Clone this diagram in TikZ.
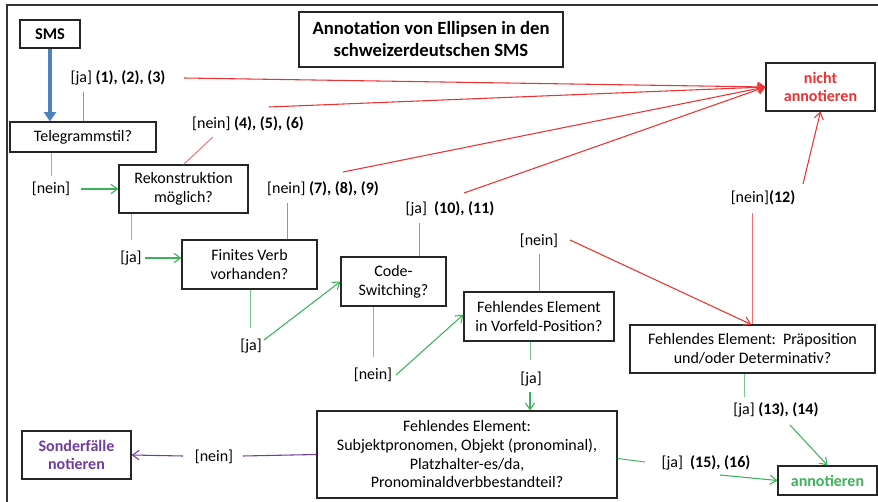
\documentclass[tikz,border=0pt]{standalone}
\usepackage{fontspec}
\setmainfont{Carlito}
\usetikzlibrary{arrows.meta}
\definecolor{cred}{RGB}{236,50,50}
\definecolor{cstubred}{RGB}{240,110,110}
\definecolor{cgreen}{RGB}{60,178,90}
\definecolor{cstubgreen}{RGB}{120,200,140}
\definecolor{cpurple}{RGB}{112,60,160}
\definecolor{cblue}{RGB}{79,129,189}
\begin{document}
\begin{tikzpicture}[x=0.75pt,y=-0.75pt,
  every node/.style={font=\fontsize{12}{14}\selectfont},
  box/.style={draw=black!85,line width=0.8pt,fill=white,align=center,inner sep=0pt},
  lbl/.style={inner sep=1pt,align=center},
  redarr/.style={draw=cred,line width=0.8pt,-{Straight Barb[length=5pt,width=7pt]}},
  redstub/.style={draw=cstubred,line width=0.7pt},
  grnarr/.style={draw=cgreen,line width=0.8pt,-{Straight Barb[length=5pt,width=7pt]}},
  grnstub/.style={draw=cstubgreen,line width=0.7pt},
  purarr/.style={draw=cpurple,line width=0.8pt,-{Straight Barb[length=5pt,width=7pt]}}
]
\useasboundingbox (0,0) rectangle (878,502);
% frame
\draw[black!80,line width=1.1pt] (7,502) -- (7,5) -- (878,5);

% nodes
\node[box,font=\bfseries\fontsize{12.3}{14}\selectfont,minimum width=45pt,minimum height=21pt] (sms) at (50,34) {SMS};
\node[box,font=\bfseries\fontsize{14}{16.5}\selectfont,minimum width=198pt,minimum height=41.25pt] (title) at (431,39.5) {Annotation von Ellipsen in den\\schweizerdeutschen SMS};
\node[box,minimum width=109.5pt,minimum height=22.5pt] (tel) at (83,137) {Telegrammstil?};
\node[box,minimum width=96.75pt,minimum height=36pt] (rek) at (183.5,189) {Rekonstruktion\\möglich?};
\node[box,minimum width=101.25pt,minimum height=36.75pt] (fin) at (249.5,264.5) {Finites Verb\\vorhanden?};
\node[box,minimum width=78.75pt,minimum height=36.75pt] (code) at (393.5,281.5) {Code-\\Switching?};
\node[box,minimum width=112.5pt,minimum height=36.75pt] (vorf) at (539,316.5) {Fehlendes Element\\in Vorfeld-Position?};
\node[box,minimum width=183.75pt,minimum height=36pt] (prap) at (752.5,349) {Fehlendes Element:\ \ Präposition\\und/oder Determinativ?};
\node[box,minimum width=225pt,minimum height=65.25pt] (big) at (467,454.5) {Fehlendes Element:\\Subjektpronomen, Objekt (pronominal),\\Platzhalter-es/da,\\Pronominaldverbbestandteil?};
\node[box,text=cred,font=\bfseries\fontsize{12}{14}\selectfont,minimum width=81.75pt,minimum height=36pt] (nicht) at (820.5,87) {nicht\\annotieren};
\node[box,text=cgreen,font=\bfseries\fontsize{12}{14}\selectfont,minimum width=74.25pt,minimum height=21.75pt] (annot) at (827.5,480.5) {annotieren};
\node[box,text=cpurple,font=\bfseries\fontsize{12}{14}\selectfont,minimum width=81.75pt,minimum height=36pt] (sond) at (76.5,455) {Sonderfälle\\notieren};

% labels
\node[lbl] (l1) at (118,78) {[ja] \textbf{(1), (2), (3)}};
\node[lbl] (l2) at (248,124) {[nein] \textbf{(4), (5), (6)}};
\node[lbl] (l3) at (51,189) {[nein]};
\node[lbl] (l4) at (131,258) {[ja]};
\node[lbl] (l5) at (323,189) {[nein] \textbf{(7), (8), (9)}};
\node[lbl] (l6) at (450,209) {[ja]\ \ \textbf{(10), (11)}};
\node[lbl] (l7) at (539,241) {[nein]};
\node[lbl] (l8) at (251,346) {[ja]};
\node[lbl] (l9) at (373,375) {[nein]};
\node[lbl] (l10) at (531,379) {[ja]};
\node[lbl] (l11) at (763,198) {[nein]\textbf{(12)}};
\node[lbl] (l12) at (776,410) {[ja] \textbf{(13), (14)}};
\node[lbl] (l13) at (706,463) {[ja]\ \ \textbf{(15), (16)}};
\node[lbl] (l14) at (214,457) {[nein]};

% free-end coordinates
\coordinate (c1a) at (83,92);   \coordinate (c1b) at (184,78);
\coordinate (c2a) at (213,137); \coordinate (c2b) at (269,107);
\coordinate (c3a) at (51,176);  \coordinate (c3b) at (81,189);
\coordinate (c4a) at (131,240); \coordinate (c4b) at (145,258);
\coordinate (c5a) at (287,203); \coordinate (c5b) at (343,172);
\coordinate (c6a) at (419,223); \coordinate (c6b) at (464,193);
\coordinate (c7a) at (539,254); \coordinate (c7b) at (570,240);
\coordinate (c8a) at (250,328); \coordinate (c8b) at (264,340);
\coordinate (c9a) at (373,357); \coordinate (c9b) at (396,375);
\coordinate (c10a) at (530,360); \coordinate (c10b) at (530,392);
\coordinate (c11a) at (752,213); \coordinate (c11b) at (803,184);
\coordinate (c12a) at (744,397); \coordinate (c12b) at (790,425);
\coordinate (c13a) at (645,462); \coordinate (c13b) at (720,475);
\coordinate (c14a) at (243,456); \coordinate (c14b) at (183,456);

% SMS -> Telegrammstil
\draw[cblue,line width=2.6pt,-{Triangle[length=7pt,width=9pt]}] (sms.south) -- (tel.north -| sms.south);

% red
\draw[redstub] (tel.north -| c1a) -- (c1a);
\draw[redarr] (c1b) -- (nicht.west);
\draw[redstub] (rek.north) -- (c2a);
\draw[redarr] (c2b) -- (nicht.west);
\draw[redstub] (fin.north -| c5a) -- (c5a);
\draw[redarr] (c5b) -- (nicht.west);
\draw[redstub] (code.north -| c6a) -- (c6a);
\draw[redarr] (c6b) -- (nicht.west);
\draw[redstub] (vorf.north) -- (c7a);
\draw[redarr] (c7b) -- ([xshift=-1pt]prap.north);
\draw[redstub] (prap.north -| c11a) -- (c11a);
\draw[redarr] (c11b) -- (nicht.south);

% green
\draw[grnstub] (tel.south -| c3a) -- (c3a);
\draw[grnarr] (c3b) -- (rek.west);
\draw[grnstub] (rek.south -| c4a) -- (c4a);
\draw[grnarr] (c4b) -- (fin.west |- c4b);
\draw[grnstub] (fin.south -| c8a) -- (c8a);
\draw[grnarr] (c8b) -- (code.west);
\draw[grnstub] (code.south -| c9a) -- (c9a);
\draw[grnarr] (c9b) -- ([yshift=1.5pt]vorf.west);
\draw[grnstub] (vorf.south -| c10a) -- (c10a);
\draw[grnarr] (c10b) -- (big.north -| c10b);
\draw[grnstub] (prap.south -| c12a) -- (c12a);
\draw[grnarr] (c12b) -- (annot.north);
\draw[cgreen,line width=0.7pt] ([yshift=-3pt]big.east) -- (c13a);
\draw[grnarr] (c13b) -- (annot.west);

% purple
\draw[cpurple,line width=0.8pt] (big.west) -- (c14a);
\draw[purarr] (c14b) -- (sond.east);
\end{tikzpicture}
\end{document}
